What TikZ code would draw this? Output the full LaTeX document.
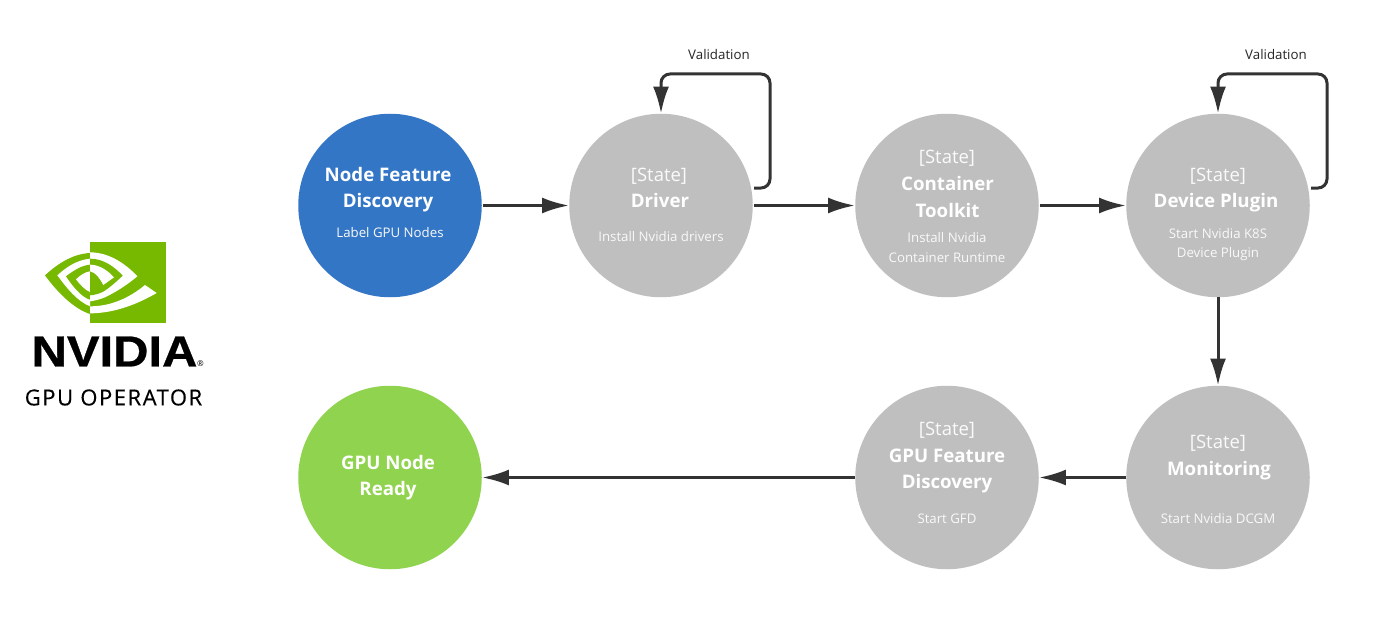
\documentclass[tikz,border=0pt]{standalone}
\usepackage{fontspec}
\setmainfont{Open Sans}
\newfontfamily\logofont[FakeBold=0.6]{Liberation Sans Bold}
\newfontfamily\opfont[FakeBold=0.35,LetterSpace=7]{Open Sans}
\usetikzlibrary{arrows.meta}
\definecolor{gcirc}{HTML}{BFBFBF}
\definecolor{nv}{HTML}{76B900}
\definecolor{lnk}{HTML}{333333}
\tikzset{x=1pt,y=-1pt,
 circ/.style={circle,minimum size=183.5pt,inner sep=0pt,fill=gcirc,text=white},
 flow/.style={draw=lnk,line width=3pt,-{Latex[length=27pt,width=16pt]},rounded corners=9pt},
 flowb/.style={draw=lnk,line width=3pt,-{Latex[length=27pt,width=16pt]}},
 lab/.style={inner sep=0pt,text=white,align=center},
 st/.style={lab,font=\fontsize{18.5}{20}\selectfont,text=white!93!gcirc},
 ti/.style={lab,font=\fontsize{18.7}{26.5}\bfseries\selectfont},
 su/.style={lab,font=\fontsize{13.25}{19.5}\selectfont,text=white!90!gcirc},
 vl/.style={inner sep=0pt,text=black!85,font=\fontsize{13.3}{15}\selectfont}}
\begin{document}
\begin{tikzpicture}
\useasboundingbox (0,0) rectangle (1388,623);
\fill[white] (0,0) rectangle (1388,623);
% circles
\node[circ,fill={rgb,255:red,51;green,118;blue,198}] (nfd) at (390,205.5) {};
\node[circ] (drv) at (661,205.5) {};
\node[circ] (ctk) at (947,205.5) {};
\node[circ] (dvp) at (1218,205.5) {};
\node[circ] (mon) at (1218,477.5) {};
\node[circ] (gfd) at (947,477.5) {};
\node[circ,fill={rgb,255:red,144;green,211;blue,78}] (rdy) at (390,477.5) {};
% labels
\node[ti] (t1) at (388,189.5) {Node Feature\\Discovery};
\node[su] (s1) at (390,232.5) {Label GPU Nodes};
\node[st] (a2) at (659,176) {[State]};
\node[ti] (t2) at (660,200) {Driver};
\node[su] (s2) at (661,236.5) {Install Nvidia drivers};
\node[st] (a3) at (947,158) {[State]};
\node[ti] (t3) at (947.5,197) {Container\\Toolkit};
\node[su] (s3) at (947,247.5) {Install Nvidia\\Container Runtime};
\node[st] (a4) at (1218,176) {[State]};
\node[ti] (t4) at (1216,203) {Device Plugin};
\node[su] (s4) at (1218,244.5) {Start Nvidia K8S\\Device Plugin};
\node[st] (a5) at (1218,443) {[State]};
\node[ti] (t5) at (1219,471) {Monitoring};
\node[su] (s5) at (1218,518.5) {Start Nvidia DCGM};
\node[st] (a6) at (947,430) {[State]};
\node[ti] (t6) at (947,471) {GPU Feature\\Discovery};
\node[su] (s6) at (947,518.5) {Start GFD};
\node[ti] (t7) at (388,477.5) {GPU Node\\Ready};
\node[vl] (v1) at (719,55) {Validation};
\node[vl] (v2) at (1276,55) {Validation};
% connectors
\draw[flowb] (nfd.east) ++(1,0) -- (drv.west);
\draw[flowb] (drv.east) ++(1,0) -- (ctk.west);
\draw[flowb] (ctk.east) ++(1,0) -- (dvp.west);
\draw[flowb] (dvp.south) -- (mon.north);
\draw[flowb] (mon.west) -- (gfd.east);
\draw[flowb] (gfd.west) -- (rdy.east);
\coordinate (l1) at (754,188);
\coordinate (l2) at (1311,188);
\draw[flow] (l1) -- (770,188) -- (770,74) -- (661,74) -- (drv.north);
\draw[flow] (l2) -- (1327,188) -- (1327,74) -- (1218,74) -- (dvp.north);
% logo
\begin{scope}[shift={(40,238)},x=0.33333pt,y=-0.33333pt]
\fill[nv] (150,12) rectangle (378,255);
% left half
\fill[nv] (150,45) .. controls (95,48) and (50,80) .. (15,112) .. controls (50,160) and (100,212) .. (150,228) -- cycle;
\fill[white] (150,62) .. controls (110,66) and (78,88) .. (52,112) .. controls (80,150) and (112,190) .. (150,205) -- cycle;
\fill[nv] (150,80) .. controls (125,82) and (100,98) .. (78,115) .. controls (98,145) and (125,178) .. (150,185) -- cycle;
\fill[white] (150,100) .. controls (135,102) and (120,112) .. (108,124) .. controls (120,140) and (135,156) .. (150,162) -- cycle;
% right half
\fill[white] (150,43) .. controls (205,43) and (255,75) .. (292,115) .. controls (262,140) and (232,160) .. (195,178) .. controls (180,184) and (165,188) .. (150,190) -- cycle;
\fill[nv] (150,62) .. controls (190,62) and (222,85) .. (248,113) .. controls (228,132) and (208,150) .. (188,162) .. controls (175,168) and (162,171) .. (150,172) -- cycle;
\fill[white] (150,80) .. controls (178,80) and (204,98) .. (222,118) -- (190,141) .. controls (182,126) and (168,102) .. (150,100) -- cycle;
\fill[white] (150,205) .. controls (215,205) and (270,178) .. (315,141) -- (350,165) .. controls (290,200) and (220,226) .. (150,226) -- cycle;
\end{scope}
\node[inner sep=0pt,text=black,font=\logofont\fontsize{43.5}{44}\selectfont,xscale=1.125] (nvt) at (114.5,351.5) {NVIDIA};
\node[inner sep=0pt,text=black,font=\fontsize{8}{8}\selectfont] (reg) at (200.5,364) {®};
\node[inner sep=0pt,text=black,font=\opfont\fontsize{22}{22}\selectfont] (gpuop) at (113.5,397.5) {GPU OPERATOR};
\end{tikzpicture}
\end{document}
